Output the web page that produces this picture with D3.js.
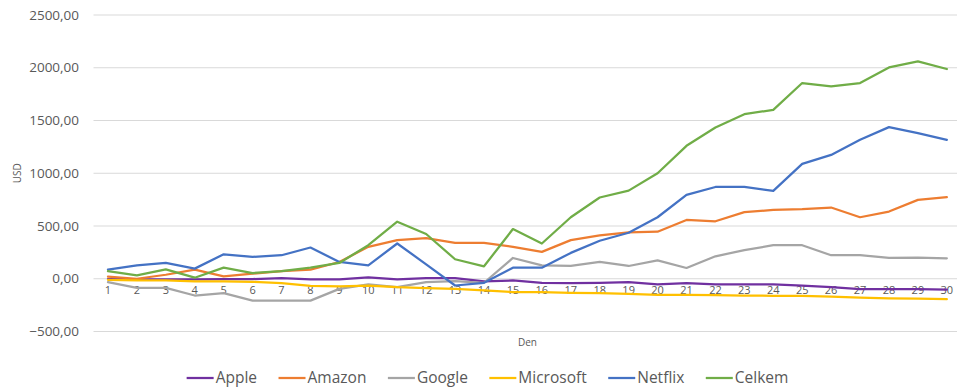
<!DOCTYPE html>
<html>
<head>
<meta charset="utf-8">
<script src="https://cdn.jsdelivr.net/npm/d3@7"></script>
<style>
  body { margin: 0; background: #fff; }
  svg { display: block; font-family: "Open Sans", "Liberation Sans", sans-serif; }
</style>
</head>
<body>
<div id="chart"></div>
<script>
// days 1..30
const days = d3.range(1, 31);
const yTicks = [-500, 0, 500, 1000, 1500, 2000, 2500];

const apple = [-3, -6, -6, -6, -3, -3, 6, -6, -6, 13, -6, 6, 6, -25, -16, -38, -41, -38, -32, -54, -41, -54, -54, -54, -64, -80, -99, -99, -99, -102];
const amazon = [19, 0, 38, 86, 22, 48, 73, 86, 159, 303, 366, 385, 341, 341, 303, 255, 366, 411, 440, 446, 557, 545, 631, 653, 659, 675, 583, 637, 748, 774];
const google = [-32, -86, -86, -159, -137, -207, -207, -207, -96, -54, -80, -32, -22, -38, 197, 127, 121, 159, 121, 175, 102, 213, 271, 318, 318, 223, 223, 197, 201, 194];
const microsoft = [-10, -16, -16, -25, -25, -29, -41, -67, -73, -64, -80, -89, -96, -111, -127, -127, -134, -137, -143, -153, -153, -156, -159, -162, -162, -169, -178, -185, -188, -194];
const netflix = [86, 127, 150, 96, 232, 207, 223, 296, 159, 127, 334, 137, -64, -38, 105, 105, 245, 360, 436, 583, 795, 870, 870, 833, 1089, 1174, 1317, 1437, 1380, 1317];
const celkem = [73, 32, 89, 10, 105, 54, 73, 105, 150, 318, 541, 424, 185, 118, 471, 334, 583, 770, 835, 1000, 1260, 1434, 1560, 1601, 1855, 1823, 1855, 2003, 2060, 1988];

const seriesNames = ["Apple", "Amazon", "Google", "Microsoft", "Netflix", "Celkem"];
const seriesValues = [apple, amazon, google, microsoft, netflix, celkem];
const colors = ["#7030A0", "#ED7D31", "#A5A5A5", "#FFC000", "#4472C4", "#70AD47"];

const width = 957, height = 390;
const margin = {top: 15, right: -4.3, bottom: 58.5, left: 93.5};

const svg = d3.select("#chart").append("svg")
  .attr("width", width)
  .attr("height", height);

const x = d3.scalePoint()
  .domain(days)
  .range([margin.left, width - margin.right])
  .padding(0.5);

const y = d3.scaleLinear()
  .domain([-500, 2500])
  .range([height - margin.bottom, margin.top]);

const loc = d3.formatLocale({decimal: ",", thousands: "", grouping: [3], currency: ["", ""]});
const fmt = loc.format(".2f");

// gridlines
svg.append("g")
  .selectAll("line")
  .data(yTicks)
  .enter().append("line")
    .attr("x1", margin.left)
    .attr("x2", width - margin.right)
    .attr("y1", d => y(d))
    .attr("y2", d => y(d))
    .attr("stroke", "#d9d9d9")
    .attr("stroke-width", 1);

// y labels
svg.append("g")
  .selectAll("text")
  .data(yTicks)
  .enter().append("text")
    .attr("x", 79)
    .attr("y", d => y(d))
    .attr("dy", "0.35em")
    .attr("text-anchor", "end")
    .style("font-size", "13.5px")
    .style("fill", "#595959")
    .text(d => fmt(d));

// x labels sit just under the zero line
svg.append("g")
  .selectAll("text")
  .data(days)
  .enter().append("text")
    .attr("x", d => x(d))
    .attr("y", y(0) + 15)
    .attr("text-anchor", "middle")
    .style("font-size", "11px")
    .style("fill", "#595959")
    .text(d => d);

// axis titles
svg.append("text")
  .attr("transform", `translate(21,${(y(-500) + y(2500)) / 2}) rotate(-90)`)
  .attr("text-anchor", "middle")
  .style("font-size", "10px")
  .style("fill", "#595959")
  .text("USD");

svg.append("text")
  .attr("x", (margin.left + width - margin.right) / 2)
  .attr("y", 346)
  .attr("text-anchor", "middle")
  .style("font-size", "10px")
  .style("fill", "#595959")
  .text("Den");

// lines
const line = d3.line()
  .x((d, i) => x(days[i]))
  .y(d => y(d));

svg.append("g")
  .selectAll("path")
  .data(seriesValues)
  .enter().append("path")
    .attr("d", d => line(d))
    .attr("fill", "none")
    .attr("stroke", (d, i) => colors[i])
    .attr("stroke-width", 2.25)
    .attr("stroke-linejoin", "round")
    .attr("stroke-linecap", "round");

// legend
const legend = svg.append("g");
const items = legend.selectAll("g")
  .data(seriesNames)
  .enter().append("g");

items.append("line")
  .attr("x1", 0).attr("x2", 27)
  .attr("y1", 0).attr("y2", 0)
  .attr("stroke", (d, i) => colors[i])
  .attr("stroke-width", 2.25);

items.append("text")
  .attr("x", 29)
  .attr("dy", "0.35em")
  .style("font-size", "15.5px")
  .style("fill", "#595959")
  .text(d => d);

let offset = 0;
const positions = [];
const gap = 21.5;
items.each(function() {
  positions.push(offset);
  const w = d3.select(this).select("text").node().getComputedTextLength();
  offset += 29 + w + gap;
});
const total = offset - gap;
const start = 487.5 - total / 2;
items.attr("transform", (d, i) => `translate(${start + positions[i]},378)`);
</script>
</body>
</html>
